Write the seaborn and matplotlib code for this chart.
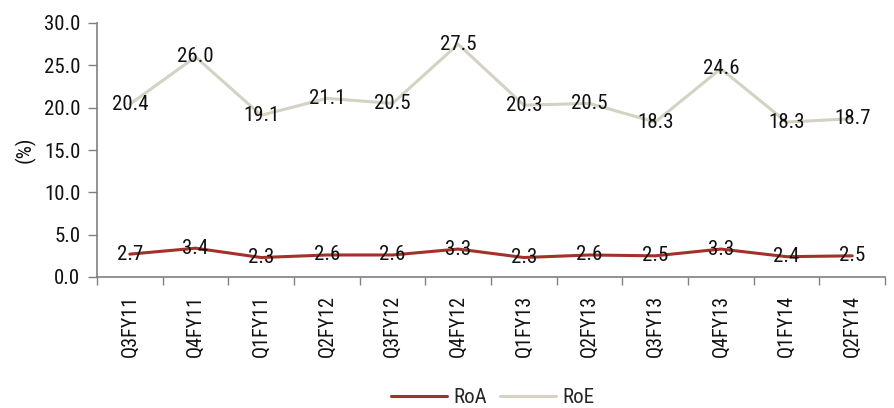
import matplotlib
matplotlib.use("Agg")
import matplotlib.pyplot as plt
import seaborn as sns
import pandas as pd
import numpy as np

quarters = ["Q3FY11", "Q4FY11", "Q1FY11", "Q2FY12", "Q3FY12", "Q4FY12",
            "Q1FY13", "Q2FY13", "Q3FY13", "Q4FY13", "Q1FY14", "Q2FY14"]
roa = [2.7, 3.4, 2.3, 2.6, 2.6, 3.3, 2.3, 2.6, 2.5, 3.3, 2.4, 2.5]
roe = [20.4, 26.0, 19.1, 21.1, 20.5, 27.5, 20.3, 20.5, 18.3, 24.6, 18.3, 18.7]
y_ticks = [0, 5, 10, 15, 20, 25, 30]

sns.set_theme(style="white")
plt.rcParams["font.family"] = ["Roboto Condensed", "Archivo Narrow", "DejaVu Sans"]

FS = 15

df = pd.DataFrame({"Quarter": quarters * 2,
                   "Value": roa + roe,
                   "Series": ["RoA"] * len(quarters) + ["RoE"] * len(quarters)})
palette = {"RoA": "#a3312a", "RoE": "#d3d2c3"}

fig = plt.figure(figsize=(8.94, 4.08), dpi=100)
ax = fig.add_axes([97 / 894, 1 - 277 / 408, (885 - 97) / 894, (277 - 23) / 408])
sns.lineplot(data=df, x="Quarter", y="Value", hue="Series", palette=palette,
             linewidth=2.2, ax=ax, sort=False, legend=False)

xs = np.arange(len(quarters))
for series, vals in (("RoA", roa), ("RoE", roe)):
    for x, v in zip(xs, vals):
        ax.text(x, v, f"{v:.1f}", ha="center", va="center", fontsize=FS,
                color="#111111")

ax.set_xlim(-0.5, len(quarters) - 0.5)
ax.set_ylim(0, 30)
ax.set_yticks(y_ticks)
ax.set_yticklabels([f"{t:.1f}" for t in y_ticks], fontsize=FS, color="#111111")
ax.set_xticks(xs)
ax.set_xticklabels(quarters, rotation=90, fontsize=14.5, color="#111111")
ax.set_xticks(np.arange(len(quarters) + 1) - 0.5, minor=True)
ax.tick_params(axis="x", which="major", length=0, pad=13)
ax.tick_params(axis="x", which="minor", length=5.5, width=1, color="#808080",
               direction="out", bottom=True)
ax.tick_params(axis="y", length=6.5, width=1, color="#808080", direction="out",
               left=True, pad=5.5)
ax.set_xlabel("")
ax.set_ylabel("(%)", fontsize=FS, color="#111111", labelpad=6)
for side in ("top", "right"):
    ax.spines[side].set_visible(False)
for side in ("left", "bottom"):
    ax.spines[side].set_color("#808080")
    ax.spines[side].set_linewidth(1.2)

handles = [plt.Line2D([], [], color=palette[s], linewidth=2.2) for s in ("RoA", "RoE")]
fig.legend(handles, ["RoA", "RoE"], loc="center", bbox_to_anchor=(0.551, 0.025),
           ncol=2, frameon=False, fontsize=FS, handlelength=2.7, columnspacing=0.6,
           handletextpad=0.3)

fig.savefig("out.png", dpi=100)
